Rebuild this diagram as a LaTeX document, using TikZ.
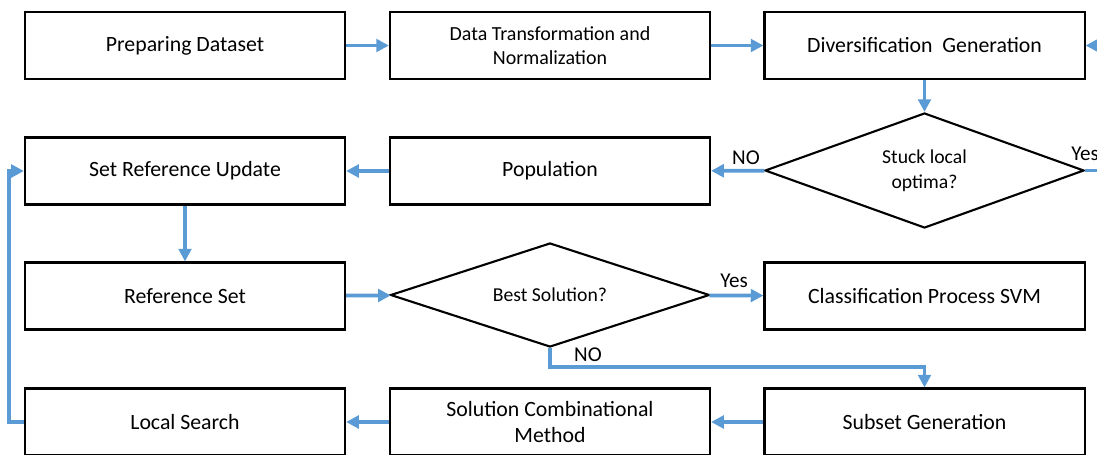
\documentclass[tikz,border=0pt]{standalone}
\usepackage{fontspec}
\setmainfont{Carlito}
\usepackage{xcolor}
\usetikzlibrary{shapes.geometric,arrows.meta,positioning,calc}

\definecolor{flowblue}{RGB}{91,155,213}

\begin{document}
\begin{tikzpicture}[
    x=0.025cm, y=-0.025cm,
    box/.style={rectangle, draw, line width=1.5pt, minimum width=8cm, minimum height=1.675cm,
        align=center, font=\fontsize{15.5}{18.5}\selectfont},
    decision/.style={diamond, draw, line width=1.5pt, inner sep=0pt, aspect=2.8, minimum width=7.975cm,
        minimum height=2.875cm, align=center, font=\fontsize{14}{18}\selectfont},
    flow/.style={draw=flowblue, line width=2.6pt, -{Triangle[length=9pt,width=9pt]}},
    lbl/.style={font=\fontsize{15}{18}\selectfont}
]
    \useasboundingbox (0,0) rectangle (1097,454);

    % First row
    \node[box] (prep) at (185,45.5) {Preparing Dataset};
    \node[box, font=\fontsize{14.2}{17}\selectfont] (trans) at (550,45.5) {Data Transformation and\\Normalization};
    \node[box] (divers) at (924.5,45.5) {Diversification\ \ Generation};

    % Second row
    \node[decision] (stuck) at (924.5,170.5) {Stuck local\\optima?};
    \node[box] (pop) at (550,171) {Population};
    \node[box] (update) at (185,171) {Set Reference Update};

    % Third row
    \node[box] (refset) at (185,296) {Reference Set};
    \node[decision, minimum height=2.6cm] (best) at (550,295) {Best Solution?};
    \node[box] (svm) at (924.5,296) {Classification Process SVM};

    % Fourth row
    \node[box] (local) at (185,422) {Local Search};
    \node[box] (comb) at (550,422) {Solution Combinational\\Method};
    \node[box] (subset) at (924.5,422) {Subset Generation};

    % Labels
    \node[lbl] (no1) at (746,158) {NO};
    \node[lbl] (yes1) at (1085,154) {Yes};
    \node[lbl] (yes2) at (734,281) {Yes};
    \node[lbl] (no2) at (588,355) {NO};

    % Return point off the right edge
    \coordinate (back) at (1115,170.5);

    % Arrows
    \draw[flow] (prep) -- (trans);
    \draw[flow] (trans) -- (divers);
    \draw[flow] (divers) -- (stuck);
    \draw[flow] (stuck) -- (pop);
    \draw[flow] (stuck.east) -- (back) |- (divers.east);
    \draw[flow] (pop) -- (update);
    \draw[flow] (update) -- (refset);
    \draw[flow] (refset) -- (best);
    \draw[flow] (best) -- (svm);
    \draw[flow] (best.south) -- ++(0,19) -| (subset.north);
    \draw[flow] (subset) -- (comb);
    \draw[flow] (comb) -- (local);
    \draw[flow] (local.west) -- ++(-15,0) |- (update.west);
\end{tikzpicture}
\end{document}
